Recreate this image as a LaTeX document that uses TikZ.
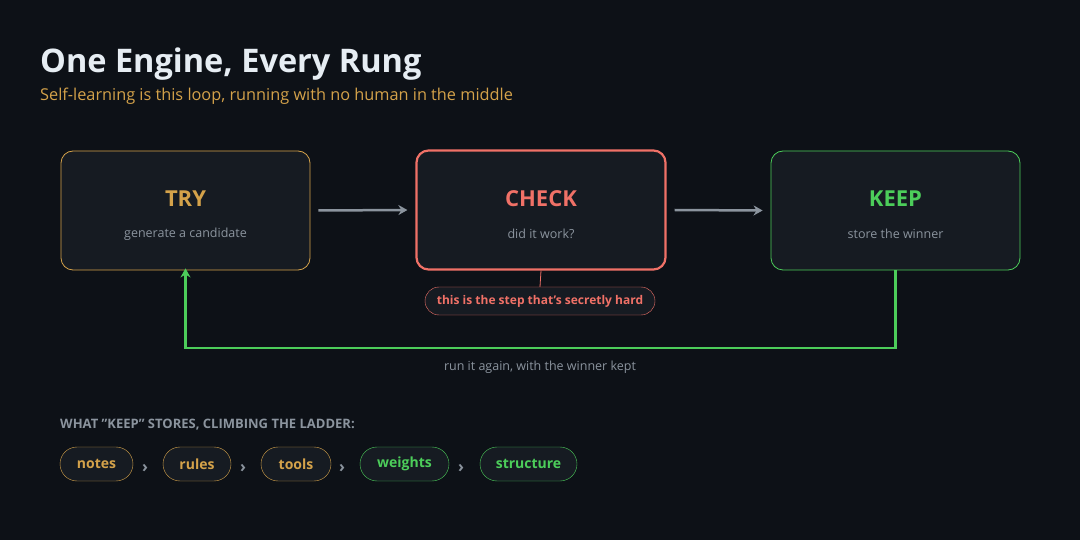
\documentclass[tikz,border=0pt]{standalone}
\usepackage{fontspec}
\setmainfont{Open Sans}
\usetikzlibrary{arrows.meta}
\definecolor{bgc}{HTML}{0D1117}
\definecolor{boxc}{HTML}{161B22}
\definecolor{gold}{HTML}{D4A24A}
\definecolor{redc}{HTML}{F07167}
\definecolor{greenc}{HTML}{4CCD5A}
\definecolor{greyc}{HTML}{8B949E}
\definecolor{titlec}{HTML}{E6EDF3}
\tikzset{
  stagebox/.style={draw=#1, rounded corners=12pt, fill=boxc, minimum width=249pt, minimum height=119pt},
  pill/.style={draw=#1, text=#1, rounded corners=17pt, fill=boxc, minimum height=34pt, inner xsep=12pt, font=\fontsize{14}{16}\selectfont\bfseries},
  flow/.style={-{Stealth[length=9pt,width=10pt]}, line width=2.5pt, greyc},
  chev/.style={greyc, font=\fontsize{16}{18}\selectfont\bfseries}
}
\begin{document}
\begin{tikzpicture}[x=1pt, y=-1pt]
	\fill[bgc] (0,0) rectangle (1080,540);
	\useasboundingbox (0,0) rectangle (1080,540);
	% heading
	\node[anchor=base west, inner sep=0pt, titlec, font=\fontsize{32.5}{36}\selectfont\bfseries] (title) at (40,73) {One Engine, Every Rung};
	\node[anchor=base west, inner sep=0pt, gold, font=\fontsize{16.3}{18}\selectfont] (sub) at (40,101) {Self-learning is this loop, running with no human in the middle};
	% the three stages
	\node[stagebox=gold, line width=0.8pt] (try) at (185.5,210.5) {};
	\node[gold, font=\fontsize{22}{24}\selectfont\bfseries] at (185.5,199) {TRY};
	\node[greyc, font=\fontsize{12.5}{14}\selectfont] at (185.5,234) {generate a candidate};
	\node[stagebox=redc, line width=2.2pt] (check) at (541,210) {};
	\node[redc, font=\fontsize{22}{24}\selectfont\bfseries] at (541,199) {CHECK};
	\node[greyc, font=\fontsize{12.5}{14}\selectfont] at (541,234) {did it work?};
	\node[stagebox=greenc, line width=0.8pt] (keep) at (895.5,210.5) {};
	\node[greenc, font=\fontsize{22}{24}\selectfont\bfseries] at (895.5,199) {KEEP};
	\node[greyc, font=\fontsize{12.5}{14}\selectfont] at (895.5,234) {store the winner};
	\draw[flow] ([xshift=8pt] try.east) -- ([xshift=-8pt] check.west);
	\draw[flow] ([xshift=8pt] check.east) -- ([xshift=-8pt] keep.west);
	% note under check
	\node[draw=redc, fill=boxc, text=redc, rounded corners=14pt, minimum width=230pt, minimum height=28pt, inner sep=0pt, font=\fontsize{12}{14}\selectfont\bfseries] (hard) at (540,301) {this is the step that's secretly hard};
	\draw[redc, line width=0.8pt] (check.south) -- (hard.north);
	% loop back
	\coordinate (bend1) at (895.5,348);
	\coordinate (bend2) at (185.5,348);
	\draw[greenc, line width=2.5pt, -{Stealth[length=9pt,width=10pt]}] (keep.south) -- (bend1) -- (bend2) -- ([yshift=2pt] try.south);
	\node[greyc, font=\fontsize{12.5}{14}\selectfont] (again) at (540,367) {run it again, with the winner kept};
	% ladder
	\node[anchor=base west, inner sep=0pt, greyc, font=\fontsize{13}{15}\selectfont\bfseries] (ladder) at (60,428) {WHAT \symbol{34}KEEP\symbol{34} STORES, CLIMBING THE LADDER:};
	\node[pill=gold, minimum width=73pt] (notes) at (96.5,464) {notes};
	\node[pill=gold, minimum width=68pt] (rules) at (197,464) {rules};
	\node[pill=gold, minimum width=70pt] (tools) at (296,464) {tools};
	\node[pill=greenc, minimum width=89pt] (weights) at (404.5,464) {weights};
	\node[pill=greenc, minimum width=97pt] (structure) at (528.5,464) {structure};
	\node[chev] at (145,468) {›};
	\node[chev] at (243,468) {›};
	\node[chev] at (342,468) {›};
	\node[chev] at (461,468) {›};
\end{tikzpicture}
\end{document}
